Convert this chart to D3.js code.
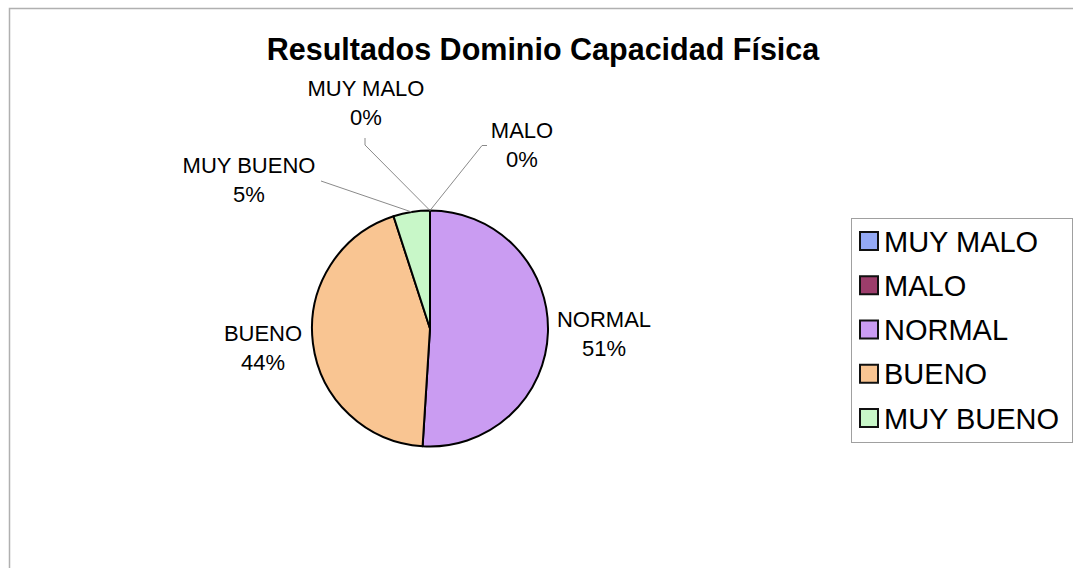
<!DOCTYPE html>
<html>
<head>
<meta charset="utf-8">
<script src="https://cdn.jsdelivr.net/npm/d3@7"></script>
<style>
  html, body { margin: 0; padding: 0; background: #fff; }
  svg { display: block; }
  text { font-family: "Liberation Sans", Arial, sans-serif; fill: #000; }
</style>
</head>
<body>
<svg id="chart" width="1073" height="568"></svg>
<script>
// ---- data ----
const title = "Resultados Dominio Capacidad Física";
const categories = ["MUY MALO", "MALO", "NORMAL", "BUENO", "MUY BUENO"];
const values = [0, 0, 51, 44, 5];
const percentLabels = ["0%", "0%", "51%", "44%", "5%"];
const colors = ["#94A9F5", "#9C3D6B", "#CA9CF2", "#F9C592", "#C8F7C8"];

// ---- layout ----
const W = 1073, H = 568;
const cx = 430, cy = 328.5, R = 118;
// label positions (center x, first baseline) and leader-line start points
const labelLayout = [
  { x: 366, y: 96,  leader: [[365, 138], [365, 145]] },
  { x: 522, y: 138, leader: [[487, 145.5], [482, 145.5]] },
  { x: 604, y: 327, leader: null },
  { x: 263, y: 341, leader: null },
  { x: 249, y: 173, leader: [[321, 181]] }
];

const svg = d3.select("#chart");

// outer frame (clipped on right/bottom)
svg.append("rect")
  .attr("x", 9.5).attr("y", 8.5)
  .attr("width", 1200).attr("height", 700)
  .attr("fill", "none").attr("stroke", "#b0b0b0").attr("stroke-width", 1.5);

// title
svg.append("text")
  .attr("x", 543).attr("y", 60)
  .attr("text-anchor", "middle")
  .style("font-size", "30.5px").style("font-weight", "bold")
  .text(title);

const data = categories.map((c, i) => ({ cat: c, value: values[i], pct: percentLabels[i], color: colors[i], i }));

const pie = d3.pie().value(d => d.value).sort(null).startAngle(0).endAngle(2 * Math.PI);
const arcs = pie(data);
const arc = d3.arc().innerRadius(0).outerRadius(R);
const edgeArc = d3.arc().innerRadius(R).outerRadius(R);

const g = svg.append("g").attr("transform", `translate(${cx},${cy})`);

g.selectAll("path.slice")
  .data(arcs.filter(a => a.data.value > 0))
  .join("path")
  .attr("class", "slice")
  .attr("d", arc)
  .attr("fill", d => d.data.color)
  .attr("stroke", "#000")
  .attr("stroke-width", 2)
  .attr("stroke-linejoin", "round");

// leader lines
const line = d3.line();
arcs.forEach((a, i) => {
  const L = labelLayout[i];
  if (!L.leader) return;
  const c = edgeArc.centroid(a);
  const pts = L.leader.concat([[cx + c[0], cy + c[1]]]);
  svg.append("path")
    .attr("d", line(pts))
    .attr("fill", "none")
    .attr("stroke", "#8a8a8a")
    .attr("stroke-width", 1);
});

// data labels
arcs.forEach((a, i) => {
  const L = labelLayout[i];
  const t = svg.append("text")
    .attr("text-anchor", "middle")
    .style("font-size", "22px");
  t.append("tspan").attr("x", L.x).attr("y", L.y).text(a.data.cat);
  t.append("tspan").attr("x", L.x).attr("y", L.y + 29).text(a.data.pct);
});

// legend
const legX = 851, legY = 218, legW = 221, legH = 224;
svg.append("rect")
  .attr("x", legX + 0.5).attr("y", legY + 0.5)
  .attr("width", legW).attr("height", legH)
  .attr("fill", "#fff").attr("stroke", "#a0a0a0").attr("stroke-width", 1);

const rowY = d3.scalePoint().domain(categories).range([241, 418]);
const leg = svg.selectAll("g.leg").data(data).join("g").attr("class", "leg")
  .attr("transform", d => `translate(0,${rowY(d.cat)})`);
leg.append("rect")
  .attr("x", 860).attr("y", -9)
  .attr("width", 18).attr("height", 18)
  .attr("fill", d => d.color)
  .attr("stroke", "#111").attr("stroke-width", 2);
leg.append("text")
  .attr("x", 884).attr("y", 10.5)
  .style("font-size", "29px")
  .text(d => d.cat);
</script>
</body>
</html>
